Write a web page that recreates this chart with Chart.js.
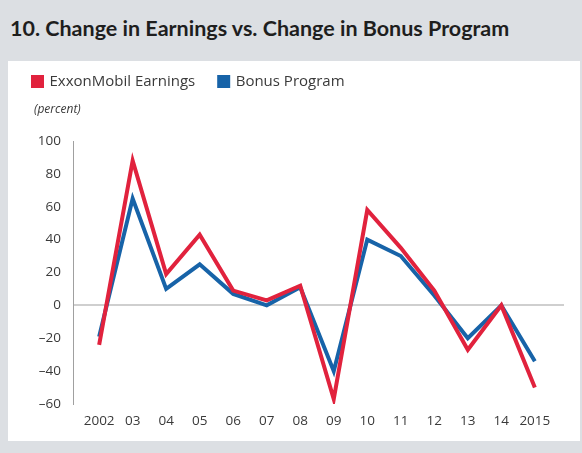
<!DOCTYPE html>
<html>
<head>
<meta charset="utf-8">
<script src="https://cdn.jsdelivr.net/npm/chart.js@4"></script>
<style>
  body { margin: 0; width: 582px; height: 453px; overflow: hidden; background: #dcdfe3; }
  #title { position: absolute; left: 10px; top: 15px; font: bold 21.5px Lato, sans-serif; color: #1e1e1e; white-space: nowrap; }
  #panel { position: absolute; left: 8px; top: 61px; width: 572px; height: 380px; background: #fff; }
</style>
</head>
<body>
<div id="title">10. Change in Earnings vs. Change in Bonus Program</div>
<div id="panel"><canvas id="myChart" width="572" height="380"></canvas></div>
<script>
var years = [2002,2003,2004,2005,2006,2007,2008,2009,2010,2011,2012,2013,2014,2015];
var tickLabels = ['2002','03','04','05','06','07','08','09','10','11','12','13','14','2015'];
var earnings = [-24, 88, 19, 43, 9, 3, 12, -57, 58, 35, 9, -27, 0, -50];
var bonus = [-19, 65, 10, 25, 7, 0, 11, -40, 40, 30, 6, -20, 0, -34];

function toPoints(vals){
    return years.map(function(y, i){ return {x: y, y: vals[i]}; });
}

// legend padding is wide (item gap), so move the "(percent)" line
// in under the legend start
var shiftSubtitle = {
  id: 'shiftSubtitle',
  afterLayout: function(chart){
    chart.boxes.forEach(function(b){
      if(b.options && b.options.text === '(percent)'){
        b.left += 25;
      }
    });
  }
};

var ctx = document.getElementById("myChart");
var myChart = new Chart(ctx, {
  type: 'line',
  data: {
    datasets: [
      {
        label: 'ExxonMobil Earnings',
        data: toPoints(earnings),
        borderColor: '#e1223d',
        backgroundColor: '#e1223d',
        borderWidth: 4,
        pointRadius: 0,
        borderJoinStyle: 'miter',
        tension: 0
      },
      {
        label: 'Bonus Program',
        data: toPoints(bonus),
        borderColor: '#1763a8',
        backgroundColor: '#1763a8',
        borderWidth: 4,
        pointRadius: 0,
        borderJoinStyle: 'miter',
        tension: 0
      }
    ]
  },
  options: {
    responsive: false,
    animation: false,
    layout: { padding: { top: -11, left: 1, right: 16, bottom: 0 } },
    plugins: {
      legend: {
        position: 'top',
        align: 'start',
        labels: {
          boxWidth: 9,
          boxHeight: 9,
          padding: 24,
          color: '#3a3a3a',
          font: { family: "'Open Sans', sans-serif", size: 15 }
        }
      },
      subtitle: {
        display: true,
        text: '(percent)',
        align: 'start',
        weight: 500,
        color: '#3a3a3a',
        font: { family: "'Open Sans', sans-serif", size: 12, style: 'italic' },
        padding: { top: 3, bottom: 24.6 }
      },
      tooltip: { enabled: false }
    },
    scales: {
      x: {
        type: 'linear',
        min: 2001.22,
        max: 2015.87,
        afterBuildTicks: function(scale){
          scale.ticks = years.map(function(v){ return {value: v}; });
        },
        afterFit: function(scale){ scale.height = 37; },
        grid: { display: false, drawTicks: false },
        border: { display: false },
        ticks: {
          autoSkip: false,
          maxRotation: 0,
          padding: 9,
          color: '#3a3a3a',
          font: { family: "'Open Sans', sans-serif", size: 13.5 },
          callback: function(value){ return tickLabels[years.indexOf(value)]; }
        }
      },
      y: {
        min: -60,
        max: 100,
        afterFit: function(scale){ scale.width = 64; },
        border: { display: true, color: '#a0a0a0', width: 1 },
        grid: {
          drawTicks: false,
          lineWidth: 2,
          color: function(c){ return c.tick && c.tick.value === 0 ? '#cfcfcf' : 'rgba(0,0,0,0)'; }
        },
        ticks: {
          stepSize: 20,
          padding: 12,
          color: '#3a3a3a',
          font: { family: "'Open Sans', sans-serif", size: 13.5 },
          callback: function(v){ return String(v).replace('-', '\u2013'); }
        }
      }
    }
  },
  plugins: [shiftSubtitle]
});
</script>
</body>
</html>
